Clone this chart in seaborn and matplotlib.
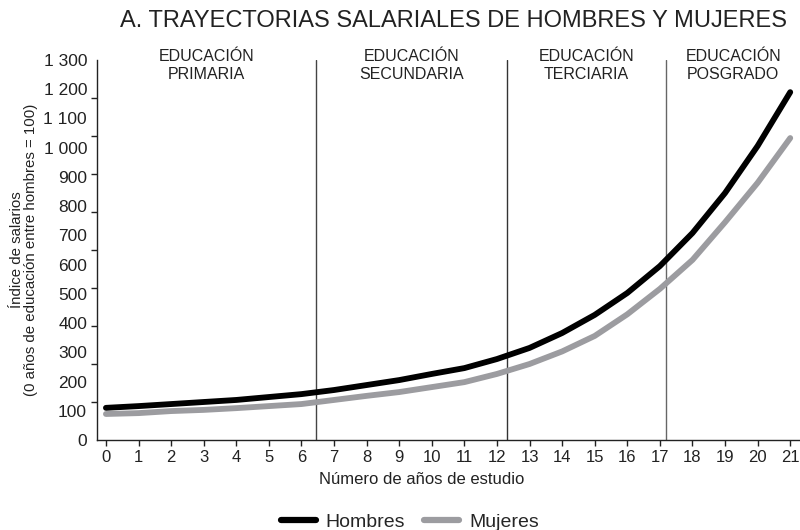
import numpy as np
import pandas as pd
import matplotlib
matplotlib.use("Agg")
import matplotlib.pyplot as plt
import seaborn as sns
from matplotlib.lines import Line2D
from matplotlib.ticker import FixedLocator
import matplotlib.transforms as mtransforms

years = list(range(22))
hombres = [110, 116, 123, 130, 137, 147, 157, 171, 188, 205, 226, 246, 277,
           315, 366, 428, 503, 595, 708, 845, 1006, 1190]
mujeres = [89, 92, 99, 103, 109, 116, 123, 137, 151, 164, 181, 198, 226,
           260, 303, 356, 430, 517, 616, 745, 880, 1033]
series_names = ["Hombres", "Mujeres"]
boundaries = [6.45, 12.3, 17.2]
region_labels = ["EDUCACIÓN\nPRIMARIA", "EDUCACIÓN\nSECUNDARIA",
                 "EDUCACIÓN\nTERCIARIA", "EDUCACIÓN\nPOSGRADO"]
ytick_vals = list(range(0, 1301, 100))
ytick_labels = ["0", "100", "200", "300", "400", "500", "600", "700", "800",
                "900", "1 000", "1 100", "1 200", "1 300"]

df = pd.DataFrame({
    "year": years * 2,
    "value": hombres + mujeres,
    "serie": [series_names[0]] * len(years) + [series_names[1]] * len(years),
})

sns.set_style("ticks")
plt.rcParams["font.family"] = ["Liberation Sans", "DejaVu Sans"]

fig = plt.figure(figsize=(8, 5.3), dpi=100)
ax = fig.add_axes([0.121, 0.1698, 0.879, 0.717])

palette = {"Hombres": "#000000", "Mujeres": "#9c9ca0"}
sns.lineplot(data=df, x="year", y="value", hue="serie", palette=palette,
             linewidth=4.2, ax=ax, legend=False, zorder=3)

xmin, xmax = -0.28, 21.3
ax.set_xlim(xmin, xmax)
ax.set_ylim(0, 1300)

for b, c in zip(boundaries, ["#444444", "#333333", "#666666"]):
    ax.axvline(b, color=c, lw=1.0, zorder=2)

edges = [xmin] + boundaries + [xmax]
trans = mtransforms.blended_transform_factory(ax.transData, ax.transAxes)
for i, lab in enumerate(region_labels):
    cx = (edges[i] + edges[i + 1]) / 2
    ax.text(cx, 0.985, lab, transform=trans, ha="center", va="center",
            fontsize=11.5, color="#222222", linespacing=1.3)

ax.set_xticks(years)
ax.set_xticklabels([str(y) for y in years])
ax.yaxis.set_major_locator(FixedLocator(ytick_vals))
ax.set_yticklabels(ytick_labels)
ax.yaxis.set_minor_locator(FixedLocator(list(np.linspace(0, 1300, 11))))
ax.tick_params(axis="y", which="major", length=0, pad=7, labelsize=12.5,
               labelcolor="#222222")
ax.tick_params(axis="y", which="minor", length=4, width=1, color="#222222",
               direction="out")
ax.tick_params(axis="x", length=4, width=1, color="#222222", labelsize=12,
               labelcolor="#222222", pad=3)

for s in ["top", "right"]:
    ax.spines[s].set_visible(False)
for s in ["left", "bottom"]:
    ax.spines[s].set_color("#222222")
    ax.spines[s].set_linewidth(1.0)

ax.set_xlabel("Número de años de estudio", fontsize=12, color="#222222")
ax.xaxis.set_label_coords(0.462, -0.085)
ax.set_ylabel("Índice de salarios\n(0 años de educación entre hombres = 100)",
              fontsize=10.8, color="#222222", linespacing=1.0)
ax.yaxis.set_label_coords(-0.084, 0.5)

fig.text(0.567, 0.96, "A. TRAYECTORIAS SALARIALES DE HOMBRES Y MUJERES",
         ha="center", va="center", fontsize=17, color="#222222")

handles = [Line2D([0], [0], color=palette[n], lw=4.5) for n in series_names]
fig.legend(handles, series_names, loc="center", bbox_to_anchor=(0.512, 0.015),
           ncol=2, frameon=False, fontsize=14, handlelength=1.8,
           handletextpad=0.5, columnspacing=1.0)

fig.savefig("out.png", dpi=100)
